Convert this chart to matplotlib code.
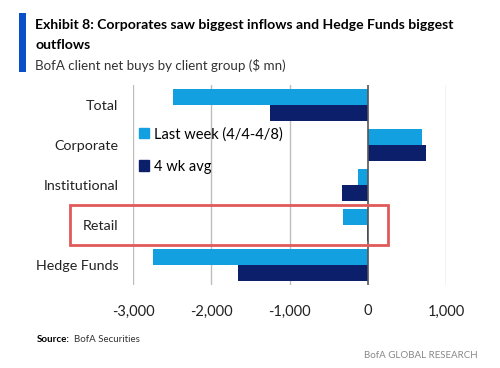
import matplotlib
matplotlib.use("Agg")
import matplotlib.pyplot as plt
from matplotlib.patches import Rectangle, Patch
import numpy as np

categories = ["Total", "Corporate", "Institutional", "Retail", "Hedge Funds"]
last_week = [-2490, 690, -130, -320, -2740]
four_wk_avg = [-1250, 750, -330, -10, -1660]
series_labels = ["Last week (4/4-4/8)", "4 wk avg"]
xticks = [-3000, -2000, -1000, 0, 1000]
xtick_labels = ["-3,000", "-2,000", "-1,000", "0", "1,000"]

LIGHT = "#13a0e0"
DARK = "#0b1f6b"
FONT = "Lato"

W, H = 500, 368
fig = plt.figure(figsize=(W / 100, H / 100), dpi=100)
ax = fig.add_axes([133 / W, 1 - 285 / H, (446 - 133) / W, 200 / H])

y = np.arange(len(categories))
h = 0.39
ax.barh(y - h / 2, last_week, height=h, color=LIGHT, zorder=3)
ax.barh(y + h / 2, four_wk_avg, height=h, color=DARK, zorder=3)
ax.set_ylim(len(categories) - 0.5, -0.5)
ax.set_xlim(-3000, 1000)
ax.set_xticks(xticks)
ax.set_xticklabels(xtick_labels, fontsize=10.5, family=FONT, color="#222222")
ax.set_yticks(y)
ax.set_yticklabels(categories, fontsize=10.3, family=FONT, color="#222222")
ax.tick_params(axis="x", length=0, pad=14)
ax.tick_params(axis="y", length=0, pad=10.5)
for s in ax.spines.values():
    s.set_visible(False)
for t in xticks:
    if t == 0:
        ax.axvline(t, color="#555555", lw=1.2, zorder=4)
    else:
        ax.axvline(t, color="#bdbdbd", lw=1.0, zorder=1)

handles = [Patch(color=LIGHT), Patch(color=DARK)]
leg = fig.legend(handles, series_labels, loc="upper left",
                 bbox_to_anchor=(139 / W, 1 - 127 / H), frameon=False,
                 prop={"family": FONT, "size": 10.5}, handlelength=0.7,
                 handleheight=0.7, handletextpad=0.35, labelspacing=1.25,
                 borderaxespad=0, borderpad=0)

# Red highlight box
fig.add_artist(Rectangle((70 / W, 1 - 245 / H), (388 - 70) / W, 40 / H,
                         transform=fig.transFigure, fill=False,
                         edgecolor="#e05a5a", lw=2.0, zorder=10))

# Title block
fig.add_artist(Rectangle((19 / W, 1 - 72 / H), 7 / W, 59 / H,
                         transform=fig.transFigure, color="#0a4fc8", lw=0))
fig.text(35 / W, 1 - 25 / H, "Exhibit 8: Corporates saw biggest inflows and Hedge Funds biggest",
         fontsize=10.1, fontweight="bold", family=FONT, va="center", ha="left")
fig.text(35 / W, 1 - 45 / H, "outflows",
         fontsize=10.1, fontweight="bold", family=FONT, va="center", ha="left")
fig.text(35 / W, 1 - 66 / H, "BofA client net buys by client group ($ mn)",
         fontsize=9.6, family=FONT, va="center", ha="left", color="#333333")

fig.text(37 / W, 1 - 339 / H, "Source:", fontsize=7, fontweight="bold",
         family=FONT, va="center", ha="left")
fig.text(74 / W, 1 - 339 / H, "BofA Securities", fontsize=7,
         family=FONT, va="center", ha="left", color="#333333")
fig.text(478 / W, 1 - 355 / H, "BofA GLOBAL RESEARCH", fontsize=7,
         family=FONT, va="center", ha="right", color="#888888")

fig.savefig("out.png", dpi=100)
